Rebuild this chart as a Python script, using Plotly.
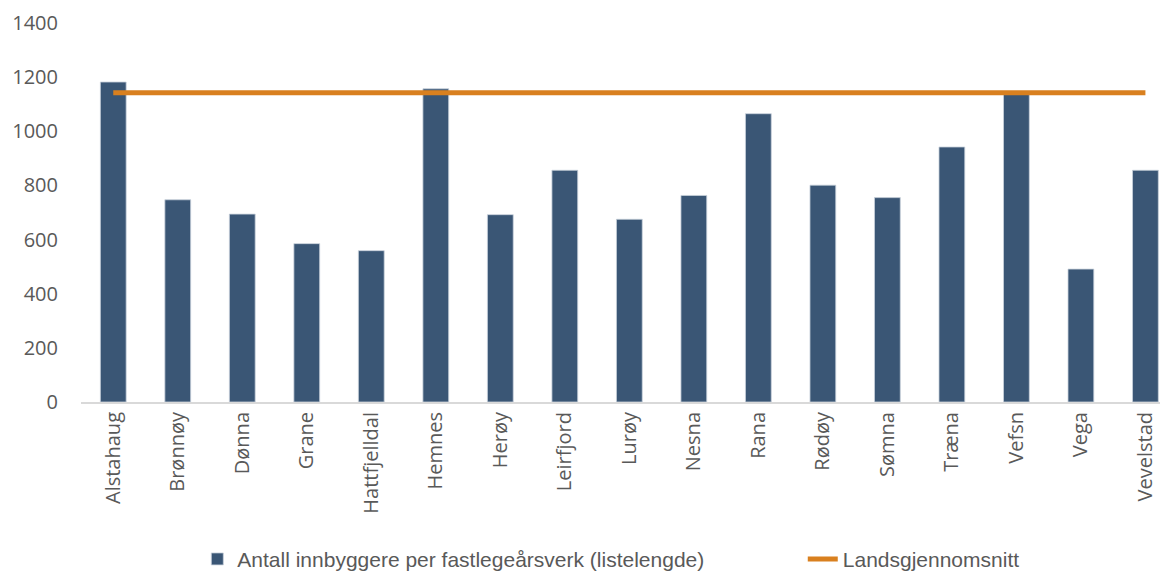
import plotly.graph_objects as go

kommuner = ["Alstahaug", "Brønnøy", "Dønna", "Grane", "Hattfjelldal", "Hemnes", "Herøy",
            "Leirfjord", "Lurøy", "Nesna", "Rana", "Rødøy", "Sømna", "Træna", "Vefsn",
            "Vega", "Vevelstad"]
innbyggere_per_aarsverk = [1182, 747, 694, 585, 559, 1157, 692, 856, 675, 763, 1065, 801,
                           755, 942, 1145, 491, 856]
landsgjennomsnitt = [1142] * len(kommuner)

bar_color = "#3A5675"
line_color = "#D9801F"

fig = go.Figure()
fig.add_trace(go.Bar(
    x=kommuner, y=innbyggere_per_aarsverk,
    name="Antall innbyggere per fastlegeårsverk (listelengde)",
    marker=dict(color=bar_color, line=dict(color="#C9D2DC", width=0.8)),
    legend="legend",
))
fig.add_trace(go.Scatter(
    x=kommuner, y=landsgjennomsnitt, mode="lines",
    name="Landsgjennomsnitt",
    line=dict(color=line_color, width=5),
    legend="legend2",
))

legend_font = dict(family="Liberation Sans Narrow, Arial Narrow, sans-serif", size=21, color="#595959")

fig.update_layout(
    width=1160, height=568,
    margin=dict(l=73, r=0, t=15, b=174, autoexpand=False),
    plot_bgcolor="white", paper_bgcolor="white",
    bargap=0.6,
    font=dict(family="Open Sans", color="#595959", size=20),
    xaxis=dict(
        range=[-0.5, 16.35], tickangle=-90, showgrid=False, automargin=False,
        showline=True, linecolor="#D9D9D9", linewidth=2,
        ticks="", tickfont=dict(size=20, color="#595959", family="Open Sans"),
    ),
    yaxis=dict(
        range=[0, 1400], dtick=200, showgrid=False, showline=False, automargin=False,
        zeroline=False, ticks="", ticklabelstandoff=22,
        tickfont=dict(size=20, color="#595959", family="Open Sans"),
    ),
    legend=dict(
        orientation="h", x=0.107, xanchor="left",
        yref="paper", y=-0.415, yanchor="middle",
        font=legend_font,
    ),
    legend2=dict(
        orientation="h", x=0.664, xanchor="left",
        yref="paper", y=-0.415, yanchor="middle",
        font=legend_font,
    ),
    showlegend=True,
)

fig.write_html("out.html")
